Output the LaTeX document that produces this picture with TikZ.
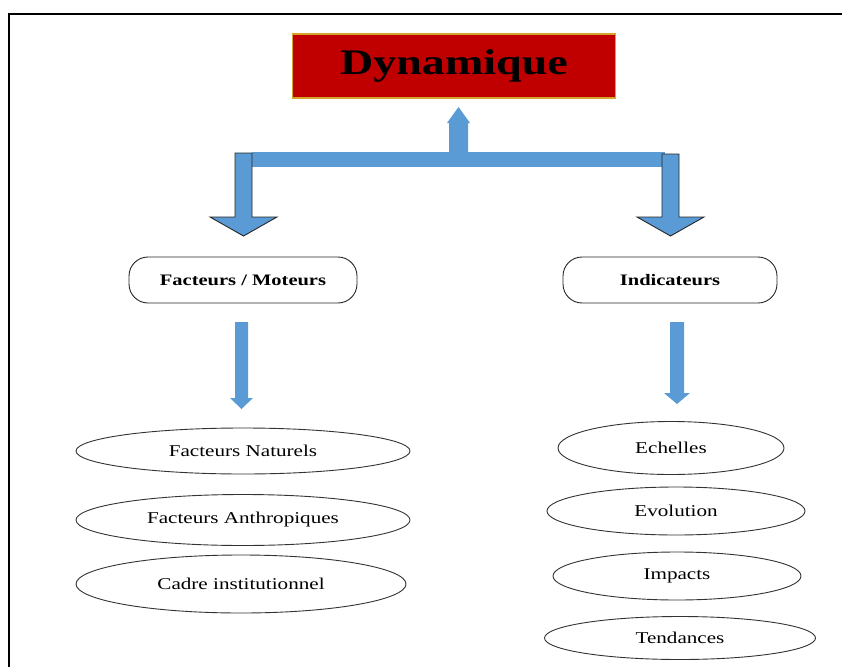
\documentclass[tikz,border=0pt]{standalone}
\usepackage{fontspec}
\setmainfont{Liberation Serif}[FakeStretch=1.28]
\usetikzlibrary{shapes.geometric}
\definecolor{arrowblue}{HTML}{5B9BD5}
\definecolor{titlered}{HTML}{C00000}
\definecolor{titleborder}{HTML}{D4A52A}
\begin{document}
\begin{tikzpicture}[x=1pt,y=-1pt,
  oval/.style={draw=black!80, line width=0.9pt, ellipse, inner sep=0pt, font=\fontsize{16.5}{18}\selectfont},
  rbox/.style={draw=black!85, line width=0.9pt, rounded corners=19pt, inner sep=0pt, font=\bfseries\fontsize{16}{18}\selectfont},
  bigarrow/.style={fill=arrowblue, draw=black!85, line width=0.9pt},
  flatarrow/.style={fill=arrowblue, draw=none}]
\useasboundingbox (0,0) rectangle (842,666);
\draw[line width=2pt] (9,667) -- (9,14) -- (843,14);

\node[draw=titleborder, line width=1.2pt, fill=titlered, minimum width=323pt, minimum height=64pt, inner sep=0pt, font=\bfseries\fontsize{36}{40}\selectfont] (dyn) at (454,66) {\raisebox{-1.5pt}{Dynamique}};

\node[rbox, minimum width=228pt, minimum height=46pt] (fm) at (243,280) {Facteurs / Moteurs};
\node[rbox, minimum width=214pt, minimum height=46pt] (ind) at (670,280) {Indicateurs};

% up arrow and bar
\fill[arrowblue] (449,153) -- (449,123) -- (447,123) -- (458.5,107) -- (470,123) -- (468,123) -- (468,153) -- cycle;
\fill[arrowblue] (252,152) rectangle (665,167);
% big down arrows
\draw[bigarrow] (235,153) -- (252,153) -- (252,217) -- (277,217) -- (243.5,236) -- (210,217) -- (235,217) -- cycle;
\draw[bigarrow] (662,154) -- (679,154) -- (679,217) -- (704,217) -- (670.5,236) -- (637,217) -- (662,217) -- cycle;

% small down arrows
\fill[arrowblue] (235,322) -- (248,322) -- (248,398) -- (253,398) -- (241.5,409) -- (230,398) -- (235,398) -- cycle;
\fill[arrowblue] (670,322) -- (684,322) -- (684,393) -- (690,393) -- (677,404) -- (664,393) -- (670,393) -- cycle;

\node[oval, minimum width=334pt, minimum height=46pt] (fn) at (243,451) {Facteurs Naturels};
\node[oval, minimum width=334pt, minimum height=51pt] (fa) at (243,520) {Facteurs Anthropiques};
\node[oval, minimum width=330pt, minimum height=58pt] (ci) at (241,584) {Cadre institutionnel};

\node[oval, minimum width=226pt, minimum height=53pt] (ech) at (671,448) {Echelles};
\node[oval, minimum width=258pt, minimum height=48pt] (evo) at (676,511) {Evolution};
\node[oval, minimum width=248pt, minimum height=48pt] (imp) at (677,576) {Impacts};
\node[oval, minimum width=271pt, minimum height=43pt] (ten) at (680,638) {Tendances};
\end{tikzpicture}
\end{document}
